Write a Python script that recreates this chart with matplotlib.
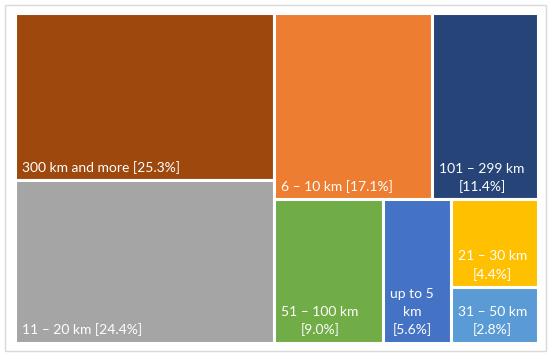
import matplotlib
matplotlib.use("Agg")
import matplotlib.pyplot as plt
from matplotlib.patches import Rectangle

# --- data ---
names = ["300 km and more", "11 – 20 km", "6 – 10 km", "101 – 299 km",
         "51 – 100 km", "up to 5\nkm", "21 – 30 km", "31 – 50 km"]
shares = [25.3, 24.4, 17.1, 11.4, 9.0, 5.6, 4.4, 2.8]
wrap = [False, False, False, True, True, True, True, True]
colors = ["#9E480E", "#A5A5A5", "#ED7D31", "#264478",
          "#70AD47", "#4472C4", "#FFC000", "#5B9BD5"]

# grouping of the tiles as Excel lays them out ('h' = side by side, 'v' = stacked)
LAYOUT = ("h", [("v", [0, 1]),
                ("v", [("h", [2, 3]),
                       ("h", [4, 5, ("v", [6, 7])])])])

plt.rcParams['font.family'] = ['Lato', 'DejaVu Sans']


def total(node):
    if isinstance(node, int):
        return shares[node]
    return sum(total(c) for c in node[1])


def place(node, x, y, w, h, out):
    """Recursively split the rectangle (x, y = lower-left) by the share totals."""
    if isinstance(node, int):
        out[node] = (x, y, w, h)
        return
    kind, children = node
    t = total(node)
    if kind == "h":
        cx = x
        for c in children:
            cw = w * total(c) / t
            place(c, cx, y, cw, h, out)
            cx += cw
    else:
        cy = y + h
        for c in children:
            ch = h * total(c) / t
            cy -= ch
            place(c, x, cy, w, ch, out)


rects = {}
place(LAYOUT, 0.0, 0.0, 1.0, 1.0, rects)

W, H = 550, 356
fig = plt.figure(figsize=(W / 100, H / 100), dpi=100)
fig.patch.set_facecolor("white")

# light frame around the whole chart
fig.patches.append(Rectangle((5 / W, 5 / H), 541 / W, 346 / H, transform=fig.transFigure,
                             fill=False, edgecolor="#D9D9D9", linewidth=1.0))

ax = fig.add_axes([14.5 / W, 1 - 342.5 / H, 523 / W, 330 / H])
ax.set_xlim(0, 1)
ax.set_ylim(0, 1)
ax.axis('off')

for i in range(len(shares)):
    x, y, w, h = rects[i]
    ax.add_patch(Rectangle((x, y), w, h, facecolor=colors[i], edgecolor="white", linewidth=2.2))
    sep = "\n" if wrap[i] else " "
    ax.annotate(f"{names[i]}{sep}[{shares[i]:.1f}%]", xy=(x, y), xycoords='data',
                xytext=(7, 6), textcoords='offset pixels',
                ha='left', va='bottom', multialignment='center',
                color="white", fontsize=10, linespacing=1.55)

plt.savefig("out.png", dpi=100)
